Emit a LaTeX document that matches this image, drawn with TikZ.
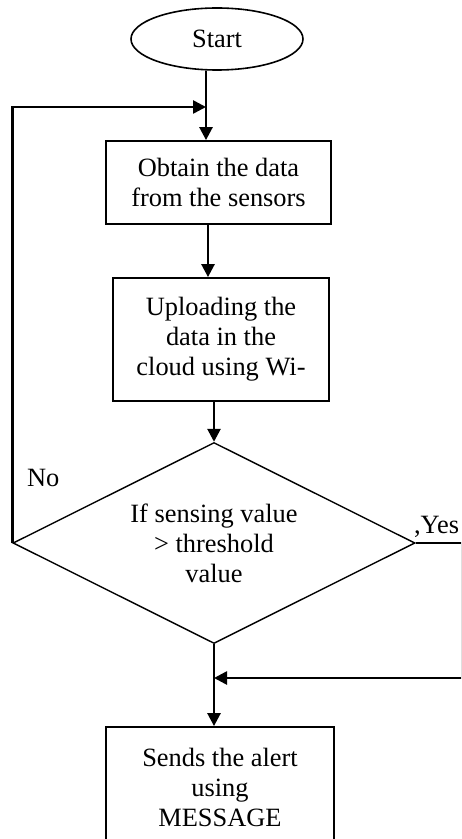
\documentclass[tikz,border=0pt]{standalone}
\usepackage{fontspec}
\setmainfont{Liberation Serif}
\usetikzlibrary{shapes.geometric,arrows.meta}

\tikzset{
    process/.style={draw, line width=0.9pt, align=center, inner sep=0pt},
    flow/.style={line width=1.3pt, -{Triangle[length=6.5pt,width=6.5pt]}},
}

\begin{document}
\begin{tikzpicture}[x=0.5pt, y=-0.5pt, every node/.style={font=\fontsize{13.2}{15}\selectfont}]
        \useasboundingbox (0,0) rectangle (461,839);
        \clip (0,0) rectangle (461,839);
        \node[draw, ellipse, line width=0.8pt, minimum width=86pt, minimum height=31pt, inner sep=0pt] (start) at (217,39) {Start};
        \node[process, minimum width=112.5pt, minimum height=41.5pt] (obtain) at (218.5,182.5) {Obtain the data\\from the sensors};
        \node[process, minimum width=108pt, minimum height=61.5pt] (upload) at (221,339.5) {Uploading the\\data in the\\cloud using Wi-};
        \node[draw, diamond, aspect=2, line width=0.7pt, minimum width=201pt, minimum height=100.5pt, inner sep=0pt, align=center] (check) at (214,543) {If sensing value\\> threshold\\value};
        \node[process, minimum width=114pt, minimum height=60pt] (alert) at (220,787) {Sends the alert\\using\\MESSAGE};
        \node[anchor=west] (no) at (20,478) {No};
        \node[anchor=west] (yes) at (407,527) {,Yes};
        \coordinate (loopjoin) at (206,107);
        \coordinate (yesturn) at (462,543);
        \coordinate (yesjoin) at (214,678);
        \draw[flow] (start.south -| loopjoin) -- (obtain.north -| loopjoin);
        \draw[flow] ([xshift=-5.25pt]obtain.south) -- ([xshift=-5.25pt]obtain.south |- upload.north);
        \draw[flow] ([xshift=-3.5pt]upload.south) -- (check.north);
        \draw[flow] (check.south) -- (check.south |- alert.north);
        \draw[flow] (check.west) -- (check.west |- loopjoin) -- (loopjoin);
        \draw[flow] (check.east) -- (yesturn) -- (yesturn |- yesjoin) -- (yesjoin);
    \end{tikzpicture}
\end{document}
